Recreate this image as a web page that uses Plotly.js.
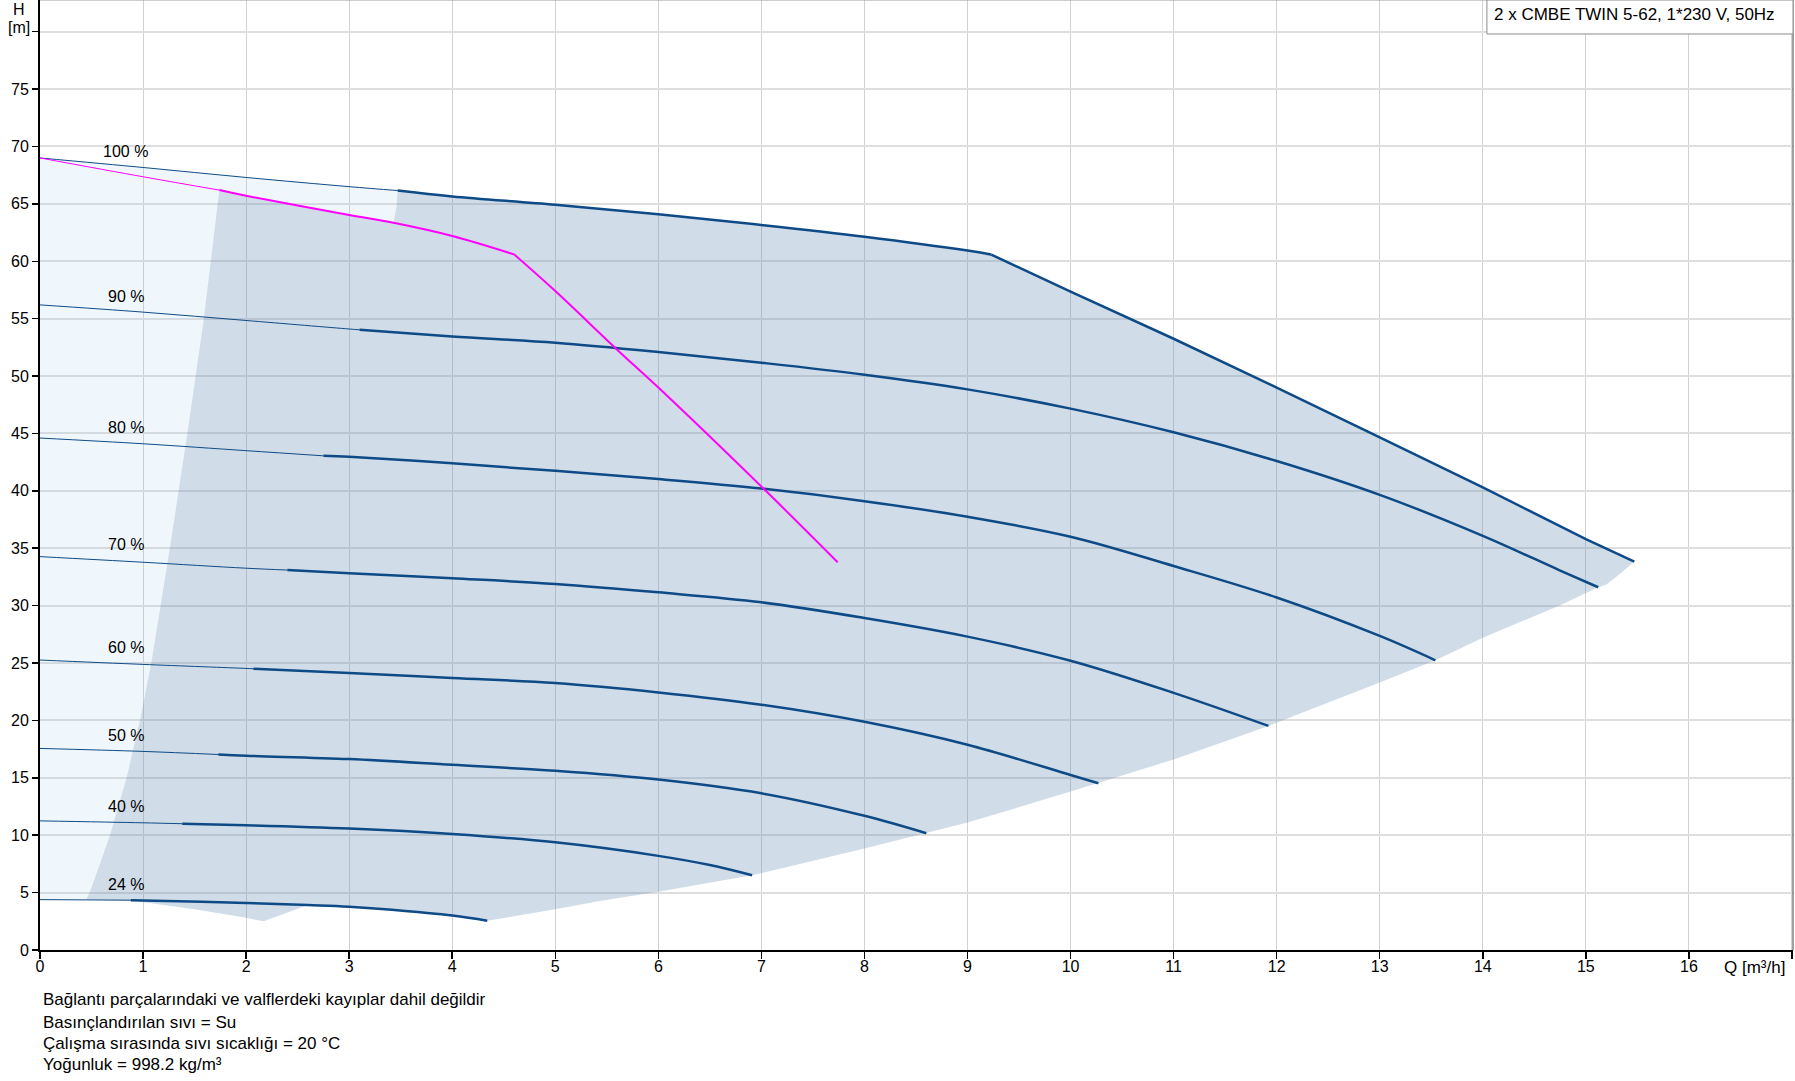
<!DOCTYPE html>
<html>
<head>
<meta charset="utf-8">
<script src="https://cdn.plot.ly/plotly-3.0.1.min.js"></script>
<style>
html, body { margin: 0; padding: 0; background: #fff; }
#chart { width: 1795px; height: 1081px; }
</style>
</head>
<body>
<div id="chart"></div>
<script>
// speed curves: Q [m3/h], H [m]
var q100 = [0, 1, 2, 3, 3.47, 4, 5, 6, 7, 8, 9, 9.23];
var h100 = [69.0, 68.17, 67.3, 66.5, 66.16, 65.65, 64.93, 64.09, 63.16, 62.14, 60.93, 60.58];
var q90 = [0, 1, 2, 3, 3.1, 4, 5, 6, 7, 8, 9, 10, 11, 12, 13, 14, 14.74, 15.12];
var h90 = [56.2, 55.57, 54.84, 54.1, 54.03, 53.45, 52.9, 52.09, 51.16, 50.12, 48.84, 47.16, 45.1, 42.6, 39.65, 36.08, 33.1, 31.6];
var q80 = [0, 1, 2, 2.75, 3, 4, 5, 6, 7, 8, 9, 10, 11, 12, 13, 13.54];
var h80 = [44.6, 44.1, 43.5, 43.05, 42.96, 42.4, 41.74, 41.03, 40.2, 39.1, 37.74, 36.0, 33.45, 30.71, 27.36, 25.24];
var q70 = [0, 1, 2, 2.4, 3, 4, 5, 6, 7, 8, 9, 10, 11, 11.92];
var h70 = [34.27, 33.78, 33.26, 33.1, 32.82, 32.38, 31.89, 31.16, 30.29, 28.92, 27.3, 25.2, 22.4, 19.52];
var q60 = [0, 1, 2, 2.07, 3, 4, 5, 6, 7, 8, 9, 10, 10.27];
var h60 = [25.26, 24.88, 24.53, 24.5, 24.13, 23.69, 23.26, 22.44, 21.37, 19.88, 17.88, 15.25, 14.53];
var q50 = [0, 1, 1.73, 2, 3, 4, 5, 6, 7, 8, 8.6];
var h50 = [17.56, 17.3, 17.03, 16.92, 16.63, 16.13, 15.61, 14.85, 13.65, 11.69, 10.17];
var q40 = [0, 1, 1.38, 2, 3, 4, 5, 6, 6.5, 6.91];
var h40 = [11.25, 11.08, 11.0, 10.87, 10.58, 10.1, 9.38, 8.2, 7.4, 6.51];
var q24 = [0, 0.88, 1, 2, 2.6, 3, 4, 4.34];
var h24 = [4.39, 4.34, 4.31, 4.1, 3.92, 3.77, 3.0, 2.55];

var speedLabels = ['100 %', '90 %', '80 %', '70 %', '60 %', '50 %', '40 %', '24 %'];
var labelH = [69.6, 56.96, 45.48, 35.33, 26.37, 18.66, 12.5, 5.67];
// flow where each curve turns from thin to thick
var thinEnd = [3.47, 3.1, 2.75, 2.4, 2.07, 1.73, 1.38, 0.88];

// max power limit
var qMaxP = [9.23, 10, 11, 12, 13, 14, 15, 15.47];
var hMaxP = [60.58, 57.36, 53.25, 49.0, 44.66, 40.3, 35.8, 33.84];

// duty curve (magenta)
var qDuty = [0, 1, 1.74, 2, 3, 3.43, 4, 4.6, 5, 5.6, 6, 7.02, 7.74];
var hDuty = [69.0, 67.36, 66.2, 65.7, 64.03, 63.35, 62.2, 60.6, 57.4, 52.3, 49.0, 40.2, 33.78];
var dutyThinEnd = 1.74;
var dutyKnee = 4.6;

// area boundaries
var qMin = [0.45, 0.48, 0.68, 0.84, 0.97, 1.08, 1.17, 1.26, 1.43, 1.59, 1.74];
var hMin = [4.39, 5, 10, 15, 20, 25, 30, 35, 45, 55, 66.2];
var qTwin = [3.43, 3.46, 3.47];
var hTwin = [63.35, 64.8, 66.16];
var qLow = [4.34, 5, 5.43, 6, 6.91, 8, 8.6, 9, 10, 10.27, 11, 11.92, 13, 13.54, 14, 14.74, 15.12, 15.2, 15.35, 15.47];
var hLow = [2.55, 3.55, 4.27, 5.08, 6.51, 8.84, 10.17, 11.1, 13.8, 14.53, 16.6, 19.52, 23.3, 25.24, 27.2, 30.0, 31.6, 31.85, 32.9, 33.84];
var qNotch = [0.45, 0.9, 1.5, 2, 2.17, 2.6];
var hNotch = [4.39, 4.28, 3.55, 2.8, 2.5, 3.92];

var qTicks = [0, 1, 2, 3, 4, 5, 6, 7, 8, 9, 10, 11, 12, 13, 14, 15, 16, 17];
var hTicks = [0, 5, 10, 15, 20, 25, 30, 35, 40, 45, 50, 55, 60, 65, 70, 75, 80];

var notes = [
  'Bağlantı parçalarındaki ve valflerdeki kayıplar dahil değildir',
  'Basınçlandırılan sıvı = Su',
  'Çalışma sırasında sıvı sıcaklığı = 20 °C',
  'Yoğunluk = 998.2 kg/m³'
];
var pumpName = '2 x CMBE TWIN 5-62, 1*230 V, 50Hz';

var BLUE = '#0e4a86';
var MAGENTA = '#ff00ff';
var FONT = 'Liberation Sans, Arial, sans-serif';

function pick(xs, ys, lo, hi) {
  var px = [], py = [];
  for (var i = 0; i < xs.length; i++) {
    if (xs[i] >= lo && xs[i] <= hi) { px.push(xs[i]); py.push(ys[i]); }
  }
  return [px, py];
}
function rev(a) { return a.slice().reverse(); }
function curve(p, color, width) {
  return { x: p[0], y: p[1], mode: 'lines', line: { color: color, width: width, shape: 'spline', smoothing: 1 }, hoverinfo: 'skip' };
}

// dark region (operating range)
var d1 = pick(qDuty, hDuty, 1.74, 3.43);
var d2 = pick(q100, h100, 3.48, 9.23);
var d3 = pick(q24, h24, 2.6, 4.33);
var darkX = [].concat(d1[0], qTwin.slice(1), d2[0], qMaxP.slice(1), rev(qLow), rev(d3[0]), rev(qNotch).slice(1), qMin.slice(1));
var darkY = [].concat(d1[1], hTwin.slice(1), d2[1], hMaxP.slice(1), rev(hLow), rev(d3[1]), rev(hNotch).slice(1), hMin.slice(1));

// light region (left of minimum flow)
var l1 = pick(q100, h100, 0, 3.47);
var l2 = pick(qDuty, hDuty, 1.74, 3.42);
var lightX = [0].concat(l1[0], rev(qTwin).slice(1), rev(l2[0]), rev(qMin).slice(1), [0]);
var lightY = [4.39].concat(l1[1], rev(hTwin).slice(1), rev(l2[1]), rev(hMin).slice(1), [4.39]);

var traces = [
  { x: lightX, y: lightY, fill: 'toself', fillcolor: 'rgba(148,202,242,0.15)', mode: 'lines', line: { width: 0 }, hoverinfo: 'skip' },
  { x: darkX, y: darkY, fill: 'toself', fillcolor: 'rgba(98,138,178,0.3)', mode: 'lines', line: { width: 0 }, hoverinfo: 'skip' }
];

var qs = [q100, q90, q80, q70, q60, q50, q40, q24];
var hs = [h100, h90, h80, h70, h60, h50, h40, h24];
for (var k = 0; k < qs.length; k++) {
  traces.push(curve(pick(qs[k], hs[k], 0, thinEnd[k]), BLUE, 1));
  traces.push(curve(pick(qs[k], hs[k], thinEnd[k], 99), BLUE, 2.5));
}
traces.push({ x: qMaxP, y: hMaxP, mode: 'lines', line: { color: BLUE, width: 2.5 }, hoverinfo: 'skip' });

traces.push(curve(pick(qDuty, hDuty, 0, dutyThinEnd), MAGENTA, 1));
traces.push(curve(pick(qDuty, hDuty, dutyThinEnd, dutyKnee), MAGENTA, 2));
traces.push(curve(pick(qDuty, hDuty, dutyKnee, 99), MAGENTA, 2));

var annotations = [];
speedLabels.forEach(function (t, i) {
  annotations.push({ x: 0.83, y: labelH[i], text: t, showarrow: false, xanchor: 'center', yanchor: 'middle', font: { size: 16, color: '#000' } });
});
function paperNote(x, y, t, anchor, size) {
  return { xref: 'paper', yref: 'paper', x: x, y: y, text: t, showarrow: false, xanchor: anchor, yanchor: 'middle', font: { size: size, color: '#000' } };
}
annotations.push(paperNote(-0.0118, 0.9902, 'H', 'center', 16));
annotations.push(paperNote(-0.0118, 0.971, '[m]', 'center', 16));
annotations.push(paperNote(0.978, -0.0184, 'Q [m³/h]', 'center', 17));
annotations.push({ x: 14.09, y: 81.54, text: pumpName, showarrow: false, xanchor: 'left', yanchor: 'middle', font: { size: 17, color: '#000' } });
var noteY = [-0.0526, -0.0761, -0.0982, -0.121];
notes.forEach(function (t, i) {
  annotations.push(paperNote(0.0008, noteY[i], t, 'left', 17));
});

var layout = {
  width: 1795,
  height: 1081,
  margin: { l: 40, r: 2, t: 0, b: 131 },
  paper_bgcolor: '#fff',
  plot_bgcolor: '#fff',
  showlegend: false,
  hovermode: false,
  font: { family: FONT, size: 16, color: '#000' },
  xaxis: {
    range: [0, 17.01],
    tickvals: qTicks,
    ticktext: qTicks.map(function (v) { return v === 17 ? '' : String(v); }),
    tickfont: { size: 16 },
    showgrid: true, gridcolor: '#d2d2d2', gridwidth: 1,
    showline: true, linecolor: '#000', linewidth: 2,
    ticks: 'outside', ticklen: 7, tickcolor: '#000', tickwidth: 1.5,
    ticklabelstandoff: -6,
    zeroline: false, fixedrange: true
  },
  yaxis: {
    range: [0, 82.76],
    tickvals: hTicks,
    ticktext: hTicks.map(function (v) { return v === 80 ? '' : String(v); }),
    tickfont: { size: 16 },
    showgrid: true, gridcolor: '#dedede', gridwidth: 2,
    showline: true, linecolor: '#000', linewidth: 2,
    ticks: 'outside', ticklen: 6, tickcolor: '#000', tickwidth: 1.5,
    ticklabelstandoff: 0,
    zeroline: false, fixedrange: true
  },
  shapes: [
    { type: 'line', xref: 'paper', yref: 'paper', x0: 0, x1: 1, y0: 1, y1: 1, line: { color: '#a0a0a0', width: 1 } },
    { type: 'line', xref: 'paper', yref: 'paper', x0: 1, x1: 1, y0: 0, y1: 1, line: { color: '#404040', width: 1 } },
    { type: 'rect', xref: 'x', yref: 'y', x0: 14.04, x1: 17.01, y0: 79.8, y1: 82.76, fillcolor: '#fff', line: { color: '#8c8c8c', width: 1 } }
  ],
  annotations: annotations
};

Plotly.newPlot('chart', traces, layout, { displayModeBar: false, staticPlot: true });
</script>
</body>
</html>
